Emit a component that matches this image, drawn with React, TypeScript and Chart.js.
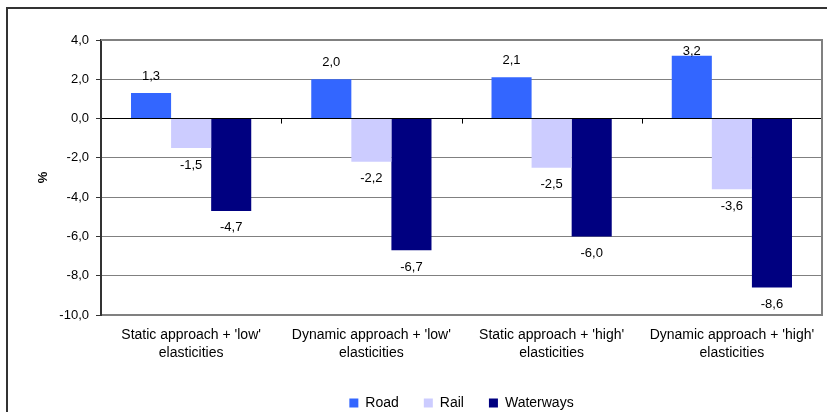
import React, { useEffect, useRef } from "react";
import { Chart, registerables } from "chart.js";

Chart.register(...registerables);

const categories: string[][] = [
  ["Static approach + 'low'", "elasticities"],
  ["Dynamic approach + 'low'", "elasticities"],
  ["Static approach + 'high'", "elasticities"],
  ["Dynamic approach + 'high'", "elasticities"],
];
const roadValues = [1.3, 2.0, 2.1, 3.2];
const railValues = [-1.5, -2.2, -2.5, -3.6];
const waterwaysValues = [-4.7, -6.7, -6.0, -8.6];
const seriesNames = ["Road", "Rail", "Waterways"];
const seriesColors = ["#3366FF", "#CCCCFF", "#000080"];
const yMin = -10;
const yMax = 4;
const yStep = 2;
const axisTitle = "%";

const FONT = "'Liberation Sans', Arial, sans-serif";
const fmt = (v: number) => v.toFixed(1).replace(".", ",");

const decorPlugin = {
  id: "decor",
  beforeDraw(chart: any) {
    const ctx = chart.ctx;
    ctx.save();
    ctx.fillStyle = "#ffffff";
    ctx.fillRect(0, 0, chart.width, chart.height);
    ctx.strokeStyle = "#333333";
    ctx.lineWidth = 2;
    ctx.beginPath();
    ctx.moveTo(7, chart.height + 5);
    ctx.lineTo(7, 8);
    ctx.lineTo(chart.width + 5, 8);
    ctx.stroke();
    ctx.restore();
  },
  beforeDatasetsDraw(chart: any) {
    const ctx = chart.ctx;
    const a = chart.chartArea;
    const x = chart.scales.x;
    const y = chart.scales.y;
    const y0 = y.getPixelForValue(0);
    ctx.save();
    ctx.strokeStyle = "#808080";
    ctx.lineWidth = 2;
    ctx.beginPath();
    ctx.moveTo(a.left, a.top);
    ctx.lineTo(a.right, a.top);
    ctx.lineTo(a.right, a.bottom);
    ctx.stroke();
    ctx.strokeStyle = "#000000";
    ctx.lineWidth = 1;
    ctx.beginPath();
    for (let i = 1; i < categories.length; i++) {
      const px = Math.round((x.getPixelForValue(i - 1) + x.getPixelForValue(i)) / 2) + 0.5;
      ctx.moveTo(px, y0);
      ctx.lineTo(px, y0 + 5);
    }
    ctx.stroke();
    ctx.restore();
  },
  afterDatasetsDraw(chart: any) {
    const ctx = chart.ctx;
    const a = chart.chartArea;
    ctx.save();
    ctx.font = `13px ${FONT}`;
    ctx.fillStyle = "#000000";
    ctx.textAlign = "center";
    ctx.textBaseline = "middle";
    chart.data.datasets.forEach((ds: any, di: number) => {
      const meta = chart.getDatasetMeta(di);
      meta.data.forEach((el: any, i: number) => {
        const v = ds.data[i] as number;
        let ty = v >= 0 ? el.y - 17 : el.y + 17;
        if (v >= 0) ty = Math.max(ty, a.top + 11);
        ctx.fillText(fmt(v), el.x, ty);
      });
    });
    ctx.restore();
  },
};

export default function App() {
  const ref = useRef<HTMLCanvasElement | null>(null);
  useEffect(() => {
    document.body.style.margin = "0";
    if (!ref.current) return;
    const chart = new Chart(ref.current, {
      type: "bar",
      data: {
        labels: categories,
        datasets: [roadValues, railValues, waterwaysValues].map((d, i) => ({
          label: seriesNames[i],
          data: d,
          backgroundColor: seriesColors[i],
          borderWidth: 0,
          categoryPercentage: 0.667,
          barPercentage: 1,
        })),
      },
      options: {
        animation: false,
        responsive: false,
        maintainAspectRatio: false,
        layout: { padding: { left: 32, top: 40, right: 5, bottom: 0 } },
        plugins: {
          tooltip: { enabled: false },
          legend: {
            position: "bottom",
            fullSize: false,
            maxHeight: 41,
            labels: {
              boxWidth: 9,
              boxHeight: 9,
              padding: 25,
              color: "#000",
              font: { family: FONT, size: 14 },
            },
          },
        },
        scales: {
          x: {
            grid: { display: false, drawTicks: false },
            border: { display: true, color: "#808080", width: 2 },
            ticks: {
              color: "#000",
              padding: 11,
              maxRotation: 0,
              autoSkip: false,
              font: { family: FONT, size: 14, lineHeight: 1.3 },
            },
            afterFit: (s: any) => {
              s.height = 56;
            },
          },
          y: {
            min: yMin,
            max: yMax,
            ticks: {
              stepSize: yStep,
              color: "#000",
              padding: 7,
              font: { family: FONT, size: 13 },
              callback: (v: any) => fmt(Number(v)),
            },
            grid: {
              color: (c: any) => (c.tick && c.tick.value === 0 ? "#000000" : "#808080"),
              tickColor: "#333333",
              tickLength: 5,
              lineWidth: 1,
            },
            border: { display: true, color: "#333333", width: 2 },
            title: {
              display: true,
              text: axisTitle,
              color: "#000",
              font: { family: FONT, size: 13, weight: "bold" },
            },
            afterFit: (s: any) => {
              s.width = 69;
            },
          },
        },
      },
      plugins: [decorPlugin],
    });
    return () => chart.destroy();
  }, []);
  return (
    <div style={{ width: 827, height: 412 }}>
      <canvas ref={ref} width={827} height={412} style={{ display: "block" }} />
    </div>
  );
}
